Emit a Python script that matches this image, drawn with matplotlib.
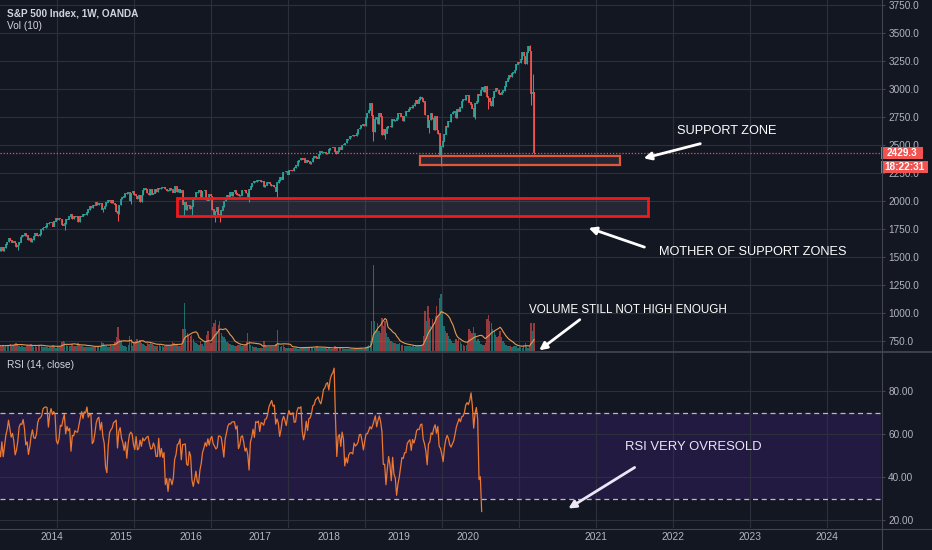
import numpy as np
import pandas as pd
import matplotlib
matplotlib.use("Agg")
import matplotlib.pyplot as plt
import matplotlib.dates as mdates
from matplotlib.patches import Rectangle, FancyArrowPatch
from matplotlib.lines import Line2D
from matplotlib.ticker import FormatStrFormatter

plt.rcParams['font.family'] = ['Liberation Sans', 'DejaVu Sans']

# ---------------- data (weekly, Friday closes) ----------------
first_week = '2012-10-05'
warmup_close = [1461, 1429, 1433, 1412, 1414, 1380, 1359, 1409, 1416, 1418, 1413, 1430, 1402,
                1466, 1472, 1486, 1503, 1513, 1518, 1520, 1516, 1518, 1551, 1561, 1557, 1569]
close_2013 = [1553, 1588, 1555, 1582, 1614, 1633, 1667, 1650, 1631, 1643, 1626, 1593, 1606,
              1632, 1680, 1692, 1691, 1709, 1691, 1655, 1664, 1633, 1655, 1688, 1710, 1692,
              1690, 1703, 1744, 1760, 1762, 1771, 1798, 1804, 1806, 1805, 1775, 1818, 1841]
close_2014 = [1831, 1842, 1838, 1790, 1783, 1797, 1838, 1836, 1859, 1878, 1841, 1866, 1857,
              1865, 1815, 1864, 1863, 1881, 1878, 1878, 1900, 1924, 1949, 1937, 1963, 1961,
              1985, 1968, 1978, 1978, 1925, 1931, 1955, 1988, 2003, 2008, 1985, 2010, 1982,
              1968, 1906, 1887, 1965, 2018, 2032, 2040, 2064, 2068, 2075, 2003, 2071, 2089]
close_2015 = [2058, 2044, 2019, 2051, 1995, 2055, 2097, 2110, 2104, 2071, 2053, 2108, 2061,
              2067, 2102, 2081, 2117, 2108, 2116, 2123, 2126, 2107, 2092, 2094, 2110, 2102,
              2077, 2077, 2127, 2079, 2104, 2078, 2092, 1971, 1989, 1921, 1961, 1958, 1931,
              1951, 2015, 2033, 2075, 2079, 2099, 2023, 2089, 2090, 2092, 2012, 2006, 2061]
close_2016 = [2044, 1922, 1880, 1907, 1940, 1880, 1865, 1918, 1948, 2000, 2022, 2050, 2035,
              2073, 2048, 2081, 2092, 2065, 2057, 2047, 2052, 2099, 2099, 2096, 2071, 2037,
              2103, 2130, 2162, 2175, 2174, 2183, 2184, 2184, 2169, 2180, 2128, 2139, 2165,
              2168, 2153, 2133, 2141, 2126, 2085, 2164, 2182, 2213, 2192, 2260, 2258, 2264, 2239]
close_2017 = [2277, 2275, 2271, 2295, 2297, 2316, 2351, 2367, 2383, 2373, 2378, 2344, 2363,
              2355, 2329, 2349, 2384, 2399, 2391, 2382, 2416, 2439, 2432, 2433, 2438, 2423,
              2425, 2459, 2473, 2472, 2477, 2441, 2426, 2443, 2477, 2461, 2500, 2502, 2519,
              2549, 2553, 2575, 2581, 2588, 2582, 2579, 2602, 2642, 2651, 2675, 2683, 2674]
close_2018 = [2743, 2786, 2810, 2873, 2762, 2620, 2732, 2747, 2691, 2786, 2752, 2588, 2641,
              2604, 2656, 2670, 2670, 2663, 2728, 2713, 2721, 2735, 2779, 2780, 2755, 2718,
              2760, 2801, 2802, 2819, 2840, 2833, 2850, 2875, 2902, 2872, 2905, 2930, 2914,
              2886, 2767, 2768, 2659, 2723, 2781, 2736, 2633, 2760, 2633, 2600, 2417, 2486]
close_2019 = [2532, 2596, 2671, 2665, 2707, 2708, 2776, 2793, 2804, 2743, 2822, 2801, 2834,
              2893, 2907, 2905, 2940, 2946, 2881, 2860, 2826, 2752, 2873, 2887, 2950, 2942,
              2990, 3014, 2977, 3026, 2932, 2919, 2889, 2847, 2926, 2979, 3007, 2992, 2962,
              2952, 2970, 2986, 3023, 3067, 3093, 3120, 3110, 3141, 3146, 3169, 3221, 3240]
close_2020 = [3235, 3265, 3330, 3295, 3226, 3328, 3380, 3338, 2954, 2972, 2429]

# notable weekly wick extremes
wick_low = {'2013-06-28': 1560, '2014-02-07': 1738, '2014-04-18': 1815, '2014-08-08': 1905,
            '2014-10-17': 1820, '2014-12-19': 1972, '2015-08-28': 1867, '2015-10-02': 1872,
            '2016-01-22': 1812, '2016-02-12': 1810, '2016-07-01': 1992, '2016-11-11': 2028,
            '2017-08-18': 2417, '2018-02-09': 2533, '2018-04-06': 2553, '2018-11-02': 2604,
            '2018-12-28': 2316, '2019-06-07': 2729, '2019-08-09': 2822, '2020-02-28': 2855,
            '2020-03-06': 2901, '2020-03-13': 2420}
wick_high = {'2018-01-26': 2878, '2018-09-21': 2941, '2019-07-26': 3028,
             '2020-02-21': 3393, '2020-03-06': 3136}

vol_2013 = [5, 4, 6, 4, 5, 5, 6, 7, 5, 6, 7, 8, 6, 5, 4, 5, 4, 4, 5, 6, 6, 7, 5, 4, 5, 4,
            5, 6, 5, 4, 4, 4, 4, 3, 4, 4, 6, 5, 3]
vol_2014 = [5, 4, 5, 9, 10, 9, 6, 5, 5, 5, 7, 5, 5, 5, 8, 6, 5, 5, 4, 4, 4, 4, 4, 4, 4, 4,
            4, 5, 5, 4, 9, 8, 6, 5, 4, 4, 6, 5, 6, 9, 14, 24, 12, 10, 6, 5, 5, 4, 6, 15, 12, 5]
vol_2015 = [9, 10, 12, 9, 11, 8, 7, 6, 5, 8, 7, 8, 7, 6, 5, 5, 5, 6, 5, 5, 4, 5, 6, 6, 5, 6,
            9, 8, 6, 6, 5, 5, 6, 22, 48, 22, 18, 16, 15, 16, 12, 9, 8, 7, 6, 10, 7, 5, 9, 16, 20, 9]
vol_2016 = [8, 24, 28, 31, 20, 26, 30, 18, 15, 14, 12, 9, 8, 7, 6, 6, 5, 5, 6, 6, 6, 5, 5, 6,
            9, 18, 10, 6, 5, 4, 4, 4, 3, 3, 3, 3, 10, 6, 4, 4, 4, 4, 4, 4, 7, 21, 8, 4, 5, 6, 4, 3, 3]
vol_2017 = [3, 3, 3, 3, 3, 3, 2, 2, 3, 3, 4, 4, 3, 3, 4, 4, 3, 3, 3, 5, 3, 3, 3, 3, 3, 3,
            2, 3, 2, 2, 2, 5, 4, 3, 3, 3, 3, 2, 2, 2, 2, 2, 2, 2, 2, 3, 2, 3, 3, 3, 2, 2]
vol_2018 = [4, 5, 6, 10, 30, 86, 30, 20, 28, 20, 18, 33, 25, 30, 18, 14, 12, 10, 9, 8, 8,
            7, 7, 8, 6, 6, 5, 5, 5, 5, 5, 4, 5, 4, 5, 5, 6, 6, 6, 15, 40, 30, 45, 33, 25, 32,
            28, 35, 45, 35, 53, 57]
vol_2019 = [40, 25, 20, 18, 15, 12, 10, 8, 8, 12, 10, 12, 9, 7, 6, 5, 6, 10, 22, 20, 18, 24,
            18, 10, 12, 10, 7, 6, 6, 8, 32, 36, 30, 28, 22, 20, 16, 14, 15, 20, 14, 10, 8,
            6, 5, 5, 5, 4, 5, 5, 5, 3]
vol_2020 = [4, 4, 3, 6, 8, 5, 3, 5, 28, 20, 28]

last_price = 2429.3
countdown = '18:22:31'
price_ticks = [750, 1000, 1250, 1500, 1750, 2000, 2250, 2500, 2750, 3000, 3250, 3500, 3750]
rsi_ticks = [20, 40, 60, 80]
rsi_band = (30, 70)
years_grid = list(range(2014, 2025))
labels_early = ['2014', '2015', '2016', '2017', '2018', '2019', '2020']
labels_late = ['2021', '2022', '2023', '2024']
mother_zone = ('2015-07-23', '2021-09-04', 1862, 2027)
support_zone = ('2018-09-18', '2021-04-23', 2321, 2402)

# ---------------- layout / style ----------------
W, H = 932, 550
BG = '#131722'
GRID = '#2c303d'
AXC = '#434651'
TXT = '#b2b5be'
UP = '#26a69a'
DN = '#ef5350'

def fx(px):
    return px / W

def fy(py):
    return 1 - py / H

fig = plt.figure(figsize=(W / 100, H / 100), dpi=100, facecolor=BG)
PR = 881
ax = fig.add_axes([0, fy(351), fx(PR), fy(0) - fy(351)])
axr = fig.add_axes([0, fy(528), fx(PR), fy(353) - fy(528)])
for a in (ax, axr):
    a.set_facecolor(BG)
    for s in a.spines.values():
        s.set_visible(False)

# x scales (price panel and RSI panel are scaled differently in the reference)
base = mdates.date2num(pd.Timestamp('2014-01-01'))
ppd_p = 77 / 365.25
lp = base - 57 / ppd_p
rp = lp + PR / ppd_p
ppd_r = 416 / (mdates.date2num(pd.Timestamp('2020-01-01')) - base)
lr = base - 52 / ppd_r
rr = lr + PR / ppd_r

def p2r(v):
    return lr + (v - lp) / (rp - lp) * (rr - lr)

# ---------------- series ----------------
visible = close_2013 + close_2014 + close_2015 + close_2016 + close_2017 + close_2018 + close_2019 + close_2020
volume = np.array(vol_2013 + vol_2014 + vol_2015 + vol_2016 + vol_2017 + vol_2018 + vol_2019 + vol_2020, float)
closes = np.array(warmup_close + visible, float)
dates_all = pd.date_range(first_week, periods=len(closes), freq='7D')
n0 = len(warmup_close)
opens_all = np.r_[closes[0], closes[:-1]]
d = dates_all[n0:]
o = opens_all[n0:]
c = closes[n0:]
hi = np.maximum(o, c)
lo = np.minimum(o, c)
for k, v in wick_low.items():
    i = d.get_loc(pd.Timestamp(k))
    lo[i] = min(lo[i], v)
for k, v in wick_high.items():
    i = d.get_loc(pd.Timestamp(k))
    hi[i] = max(hi[i], v)
up = c >= o
cols = np.where(up, UP, DN)
x = mdates.date2num(d)

# RSI(14) of close (Wilder smoothing)
delta = pd.Series(closes).diff()
gain = delta.clip(lower=0)
loss = (-delta).clip(lower=0)
ag = gain.ewm(alpha=1 / 14, adjust=False).mean()
al = loss.ewm(alpha=1 / 14, adjust=False).mean()
rsi = 100 - 100 / (1 + ag / al)
xr_all = mdates.date2num(dates_all)

# ---------------- price panel ----------------
ax.set_xlim(lp, rp)
ax.set_ylim(3750 - 346 / 0.112, 3750 + 5 / 0.112)
ax.set_xticks([mdates.date2num(pd.Timestamp(f'{y}-01-01')) for y in years_grid])
ax.set_xticklabels([])
ax.grid(True, color=GRID, lw=0.8)
ax.set_axisbelow(True)

ax.vlines(x, lo, hi, colors=cols, lw=0.75, zorder=3)
ax.vlines(x, np.minimum(o, c) - 3, np.maximum(o, c) + 3, colors=cols, lw=1.25, zorder=3)
ax.axhline(last_price, color=DN, lw=0.9, ls=(0, (1, 1.5)), zorder=2)

for (s, e, b, t), ec, lw in ((mother_zone, '#f0191c', 2.0), (support_zone, '#e0583c', 1.6)):
    xs = mdates.date2num(pd.Timestamp(s))
    xe = mdates.date2num(pd.Timestamp(e))
    ax.add_patch(Rectangle((xs, b), xe - xs, t - b, facecolor=(0.47, 0.48, 0.53, 0.18),
                           edgecolor=ec, lw=lw, zorder=4))

# volume overlay
axv = ax.twinx()
axv.set_ylim(-0.5, 350.5)
axv.set_yticks([])
for s in axv.spines.values():
    s.set_visible(False)
vcols = [(0.149, 0.651, 0.604, 0.6) if u else (0.937, 0.325, 0.314, 0.6) for u in up]
axv.bar(x, volume, width=6.5, color=vcols, linewidth=0, zorder=2)
ma = pd.Series(volume).rolling(10, min_periods=1).mean()
axv.plot(x, ma, color='#e89a50', lw=0.8, zorder=3)

# price axis on the right (after twinx, which resets it)
ax.yaxis.tick_right()
ax.set_yticks(price_ticks)
ax.yaxis.set_major_formatter(FormatStrFormatter('%.1f'))
ax.tick_params(axis='x', length=0)
ax.tick_params(axis='y', which='both', left=False, labelleft=False, right=True, labelright=True,
               length=3, width=0.8, color=AXC, labelcolor=TXT, labelsize=7.2, pad=2.2)

# ---------------- RSI panel ----------------
axr.set_xlim(lr, rr)
axr.set_ylim(80 - (528 - 391) / 2.15, 80 + (391 - 353) / 2.15)
axr.axhspan(rsi_band[0], rsi_band[1], color='#231a42', zorder=0.5, lw=0)
for g in years_grid:
    axr.axvline(p2r(mdates.date2num(pd.Timestamp(f'{g}-01-01'))), color=GRID, lw=0.8, zorder=0.6)
for t in rsi_ticks:
    axr.axhline(t, color=GRID, lw=0.8, zorder=0.6)
for b in rsi_band:
    axr.axhline(b, color='#b8b8c8', lw=0.9, ls=(0, (4, 3)), zorder=1)
axr.plot(xr_all, rsi, color='#ec7832', lw=0.9, zorder=3)
axr.set_yticks(rsi_ticks)
axr.yaxis.set_major_formatter(FormatStrFormatter('%.2f'))
axr.yaxis.tick_right()
pos = [mdates.date2num(pd.Timestamp(f'{y}-01-01')) for y in labels_early]
pos += [p2r(mdates.date2num(pd.Timestamp(f'{y}-01-01'))) for y in labels_late]
axr.set_xticks(pos)
axr.set_xticklabels(labels_early + labels_late)
axr.tick_params(axis='x', length=0, labelcolor=TXT, labelsize=7.4, pad=3)
axr.tick_params(axis='y', length=3, width=0.8, color=AXC, labelcolor=TXT, labelsize=7.2, pad=2.2)

# ---------------- frame lines ----------------
fig.add_artist(Line2D([0, 1], [fy(352), fy(352)], transform=fig.transFigure, color='#3e424e', lw=1.4))
fig.add_artist(Line2D([0, 1], [fy(528.5), fy(528.5)], transform=fig.transFigure, color=AXC, lw=0.8))
fig.add_artist(Line2D([fx(881.5), fx(881.5)], [0, 1], transform=fig.transFigure, color=AXC, lw=0.8))

# ---------------- labels ----------------
fig.text(fx(7), fy(13), 'S&P 500 Index, 1W, OANDA', color='#d1d4dc', fontsize=7.2,
         fontweight='bold', va='center', ha='left')
fig.text(fx(7), fy(26), 'Vol (10)', color='#d1d4dc', fontsize=7.3, va='center', ha='left')
fig.text(fx(7), fy(365), 'RSI (14, close)', color='#d1d4dc', fontsize=7.3, va='center', ha='left')

fig.add_artist(Rectangle((fx(881), fy(159)), fx(42), 12 / H, transform=fig.transFigure,
                         facecolor='#f05350', edgecolor='none'))
fig.text(fx(902), fy(153), f'{last_price:.1f}', color='white', fontsize=7.2,
         fontweight='bold', ha='center', va='center')
fig.add_artist(Rectangle((fx(881), fy(173)), fx(47), 12 / H, transform=fig.transFigure,
                         facecolor='#f05350', edgecolor='none'))
fig.text(fx(904.5), fy(167), countdown, color='white', fontsize=7.2,
         fontweight='bold', ha='center', va='center')

def note(txt, cx, cy, size, tail, head, color='white'):
    fig.text(fx(cx), fy(cy), txt, color=color, fontsize=size, ha='left', va='center')
    fig.add_artist(FancyArrowPatch((fx(tail[0]), fy(tail[1])), (fx(head[0]), fy(head[1])),
                                   transform=fig.transFigure, arrowstyle='-|>',
                                   mutation_scale=11, lw=2, color=color))

note('SUPPORT ZONE', 677, 131, 9.2, (703, 143), (641, 159))
note('MOTHER OF SUPPORT ZONES', 659, 252, 9.2, (647, 248), (586, 227))
note('VOLUME STILL NOT HIGH ENOUGH', 529, 310, 8.4, (582, 318), (537, 352))
note('RSI VERY OVRESOLD', 625, 447, 9.4, (637, 466), (566, 510), color='#ece6f6')

fig.savefig('out.png', dpi=100, facecolor=BG)
